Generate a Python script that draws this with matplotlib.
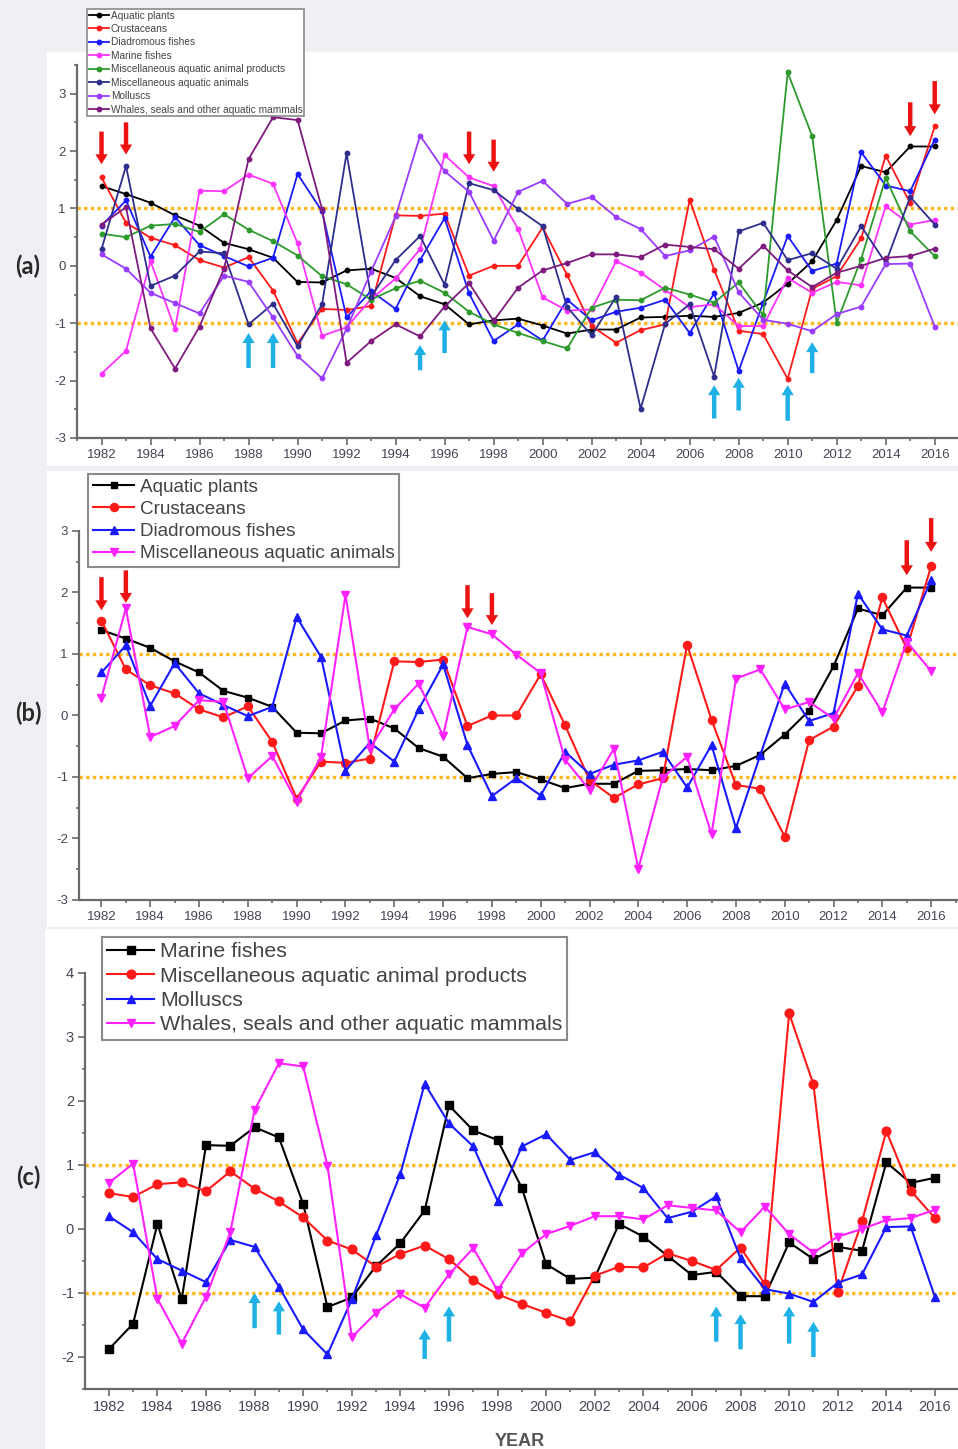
import matplotlib
matplotlib.use("Agg")
import matplotlib.pyplot as plt
from matplotlib.patches import Rectangle
from matplotlib.ticker import MultipleLocator
import numpy as np

matplotlib.rc("font", family="Liberation Sans")
matplotlib.rc("axes", unicode_minus=False)

# Data (standardised anomalies)
years = np.arange(1982, 2017)

aquatic_plants = [1.39, 1.25, 1.10, 0.88, 0.70, 0.40, 0.29, 0.14,
                  -0.28, -0.29, -0.08, -0.05, -0.21, -0.53, -0.67, -1.02, -0.95, -0.92,
                  -1.04, -1.18, -1.11, -1.11, -0.90, -0.89, -0.87, -0.89, -0.82, -0.64,
                  -0.31, 0.08, 0.80, 1.74, 1.63, 2.08, 2.08]
crustaceans = [1.54, 0.75, 0.49, 0.36, 0.10, -0.03, 0.15, -0.43,
               -1.35, -0.75, -0.77, -0.70, 0.88, 0.87, 0.91, -0.17, 0.00, 0.00,
               0.67, -0.16, -1.05, -1.34, -1.12, -1.02, 1.15, -0.07, -1.13, -1.19,
               -1.97, -0.40, -0.18, 0.48, 1.92, 1.09, 2.43]
diadromous = [0.70, 1.14, 0.16, 0.85, 0.36, 0.17, -0.01, 0.14,
              1.60, 0.95, -0.90, -0.44, -0.75, 0.10, 0.83, -0.48, -1.31, -1.02,
              -1.30, -0.59, -0.95, -0.80, -0.73, -0.59, -1.17, -0.48, -1.83, -0.64,
              0.52, -0.09, 0.04, 1.98, 1.40, 1.30, 2.20]
misc_animals = [0.29, 1.74, -0.35, -0.17, 0.25, 0.22, -1.02, -0.66,
                -1.40, -0.67, 1.96, -0.54, 0.10, 0.52, -0.33, 1.44, 1.32, 0.99,
                0.69, -0.72, -1.21, -0.54, -2.49, -1.01, -0.67, -1.93, 0.60, 0.75,
                0.10, 0.22, -0.05, 0.69, 0.05, 1.20, 0.72]
marine_fishes = [-1.88, -1.48, 0.08, -1.10, 1.31, 1.30, 1.59, 1.43,
                 0.39, -1.22, -1.07, -0.58, -0.22, 0.29, 1.93, 1.54, 1.39, 0.64,
                 -0.55, -0.78, -0.76, 0.08, -0.12, -0.42, -0.72, -0.67, -1.05, -1.05,
                 -0.21, -0.47, -0.28, -0.34, 1.04, 0.72, 0.80]
misc_products = [0.56, 0.50, 0.70, 0.73, 0.59, 0.90, 0.63, 0.43,
                 0.18, -0.18, -0.32, -0.59, -0.39, -0.26, -0.47, -0.80, -1.02, -1.17,
                 -1.31, -1.44, -0.73, -0.59, -0.60, -0.38, -0.50, -0.64, -0.29, -0.86,
                 3.37, 2.26, -0.99, 0.12, 1.53, 0.60, 0.17]
molluscs = [0.20, -0.05, -0.47, -0.65, -0.83, -0.17, -0.28, -0.90,
            -1.57, -1.96, -1.10, -0.10, 0.86, 2.27, 1.65, 1.29, 0.44, 1.29,
            1.48, 1.08, 1.20, 0.85, 0.64, 0.17, 0.27, 0.51, -0.46, -0.94,
            -1.01, -1.14, -0.84, -0.71, 0.03, 0.04, -1.06]
whales = [0.72, 1.02, -1.09, -1.79, -1.06, -0.05, 1.86, 2.59,
          2.54, 0.99, -1.69, -1.31, -1.02, -1.23, -0.71, -0.30, -0.96, -0.38,
          -0.08, 0.05, 0.20, 0.20, 0.15, 0.37, 0.33, 0.29, -0.05, 0.35,
          -0.08, -0.37, -0.12, 0.00, 0.14, 0.17, 0.30]

# Arrow annotations: (year, tail value, tip value)
red_arrows_a = [(1982, 2.34, 1.77), (1983, 2.50, 1.94), (1997, 2.34, 1.77),
                (1998, 2.20, 1.64), (2015, 2.85, 2.26), (2016, 3.22, 2.64)]
blue_arrows_a = [(1988, -1.78, -1.17), (1989, -1.78, -1.17), (1995, -1.82, -1.38),
                 (1996, -1.52, -0.95), (2007, -2.66, -2.08), (2008, -2.52, -1.95),
                 (2010, -2.70, -2.08), (2011, -1.87, -1.33)]
red_arrows_b = [(1982, 2.25, 1.71), (1983, 2.36, 1.83), (1997, 2.12, 1.58),
                (1998, 1.99, 1.47), (2015, 2.85, 2.28), (2016, 3.21, 2.66)]
blue_arrows_c = [(1988, -1.55, -1.00), (1989, -1.65, -1.13), (1995, -2.03, -1.57),
                 (1996, -1.76, -1.21), (2007, -1.76, -1.21), (2008, -1.88, -1.33),
                 (2010, -1.79, -1.21), (2011, -2.00, -1.45)]

W, H = 958, 1449
fig = plt.figure(figsize=(W / 100, H / 100), dpi=100)
fig.patch.set_facecolor("#eef0f3")

# white panel backgrounds
for x0, y0, x1, y1 in [(47, 52, 958, 466), (47, 471, 958, 927), (45, 929, 958, 1449)]:
    fig.add_artist(Rectangle((x0 / W, 1 - y1 / H), (x1 - x0) / W, (y1 - y0) / H,
                             transform=fig.transFigure, facecolor="white",
                             edgecolor="none", zorder=-5))


def make_axes(left, bottom, top, xlim, ylim, tick_size):
    ax = fig.add_axes([left / W, 1 - bottom / H, (W - left) / W, (bottom - top) / H])
    ax.set_facecolor("none")
    ax.set_xlim(*xlim)
    ax.set_ylim(*ylim)
    for s in ["top", "right"]:
        ax.spines[s].set_visible(False)
    for s in ["left", "bottom"]:
        ax.spines[s].set_color("#6a6a6a")
        ax.spines[s].set_linewidth(1.6)
    ax.xaxis.set_major_locator(MultipleLocator(2))
    ax.xaxis.set_minor_locator(MultipleLocator(1))
    ax.yaxis.set_major_locator(MultipleLocator(1))
    ax.yaxis.set_minor_locator(MultipleLocator(0.5))
    ax.tick_params(which="major", length=5, width=1.2, color="#6a6a6a",
                   labelsize=tick_size, labelcolor="#454555", pad=3)
    ax.tick_params(which="minor", length=2.5, width=1.2, color="#6a6a6a")
    for y in [1, -1]:
        ax.axhline(y, color="#ffb81c", lw=2.4, ls=(0, (1, 1)), zorder=1)
    return ax


def draw_arrows(ax, arrows, color):
    for yr, tail, tip in arrows:
        ax.annotate("", xy=(yr, tip), xytext=(yr, tail), annotation_clip=False,
                    arrowprops=dict(arrowstyle="simple,head_width=1.1,head_length=0.9,tail_width=0.4",
                                    mutation_scale=8, color=color, lw=0, shrinkA=0, shrinkB=0))


def style_legend(leg, lw):
    leg.get_frame().set_linewidth(lw)
    for t in leg.get_texts():
        t.set_color("#444444")


# ---- panel (a): all categories ----
ax_a = make_axes(77, 438, 65, (1981.0, 2016.95), (-3, 3.5), 9.5)
series_a = [
    (aquatic_plants, "Aquatic plants", "black"),
    (crustaceans, "Crustaceans", "#ff1a1a"),
    (diadromous, "Diadromous fishes", "#1a1aff"),
    (marine_fishes, "Marine fishes", "#ff33ff"),
    (misc_products, "Miscellaneous aquatic animal products", "#2e9a2e"),
    (misc_animals, "Miscellaneous aquatic animals", "#2e2e8c"),
    (molluscs, "Molluscs", "#9a3cff"),
    (whales, "Whales, seals and other aquatic mammals", "#7f1a7f"),
]
for vals, name, col in series_a:
    ax_a.plot(years, vals, "-o", color=col, lw=1.3, ms=3.2, label=name, zorder=3)
draw_arrows(ax_a, red_arrows_a, "#ee1111")
draw_arrows(ax_a, blue_arrows_a, "#1fb0e6")
leg = ax_a.legend(loc="upper left", bbox_to_anchor=(87 / W, 1 - 9 / H),
                  bbox_transform=fig.transFigure, borderaxespad=0, fontsize=7.3,
                  handlelength=2.0, handletextpad=0.2, labelspacing=0.34,
                  borderpad=0.15, fancybox=False, framealpha=1, edgecolor="#8a8a8a")
style_legend(leg, 1.2)

# ---- panel (b) ----
ax_b = make_axes(79, 900, 531, (1981.08, 2017.1), (-3, 3), 9.5)
series_b = [
    (aquatic_plants, "Aquatic plants", "black", "s"),
    (crustaceans, "Crustaceans", "#ff1a1a", "o"),
    (diadromous, "Diadromous fishes", "#1a1aff", "^"),
    (misc_animals, "Miscellaneous aquatic animals", "#ff22ff", "v"),
]
for vals, name, col, mk in series_b:
    ax_b.plot(years, vals, "-", marker=mk, color=col, lw=1.5,
              ms=5 if mk == "s" else 5.8, label=name, zorder=3)
draw_arrows(ax_b, red_arrows_b, "#ee1111")
leg = ax_b.legend(loc="upper left", bbox_to_anchor=(88 / W, 1 - 474 / H),
                  bbox_transform=fig.transFigure, borderaxespad=0, fontsize=13.6,
                  handlelength=2.2, handletextpad=0.3, labelspacing=0.26,
                  borderpad=0.25, fancybox=False, framealpha=1, edgecolor="#8a8a8a")
style_legend(leg, 1.5)

# ---- panel (c) ----
ax_c = make_axes(85, 1389, 973, (1981.02, 2016.95), (-2.5, 4), 10.5)
series_c = [
    (marine_fishes, "Marine fishes", "black", "s"),
    (misc_products, "Miscellaneous aquatic animal products", "#ff1a1a", "o"),
    (molluscs, "Molluscs", "#1a1aff", "^"),
    (whales, "Whales, seals and other aquatic mammals", "#ff22ff", "v"),
]
for vals, name, col, mk in series_c:
    ax_c.plot(years, vals, "-", marker=mk, color=col, lw=1.5,
              ms=5.5 if mk == "s" else 6.3, label=name, zorder=3)
draw_arrows(ax_c, blue_arrows_c, "#1fb0e6")
leg = ax_c.legend(loc="upper left", bbox_to_anchor=(102 / W, 1 - 937 / H),
                  bbox_transform=fig.transFigure, borderaxespad=0, fontsize=15.4,
                  handlelength=2.2, handletextpad=0.25, labelspacing=0.25,
                  borderpad=0.25, fancybox=False, framealpha=1, edgecolor="#8a8a8a")
style_legend(leg, 1.5)

# panel labels and x label
for label, ypx in [("(a)", 266), ("(b)", 713), ("(c)", 1177)]:
    fig.text(28 / W, 1 - ypx / H, label, ha="center", va="center",
             fontsize=17, fontweight="bold", family="Lato", color="#2a2a2a")
fig.text(520 / W, 1 - 1441 / H, "YEAR", ha="center", va="center",
         fontsize=13, fontweight="bold", color="#555555")

fig.savefig("out.png", dpi=100, facecolor=fig.get_facecolor())
